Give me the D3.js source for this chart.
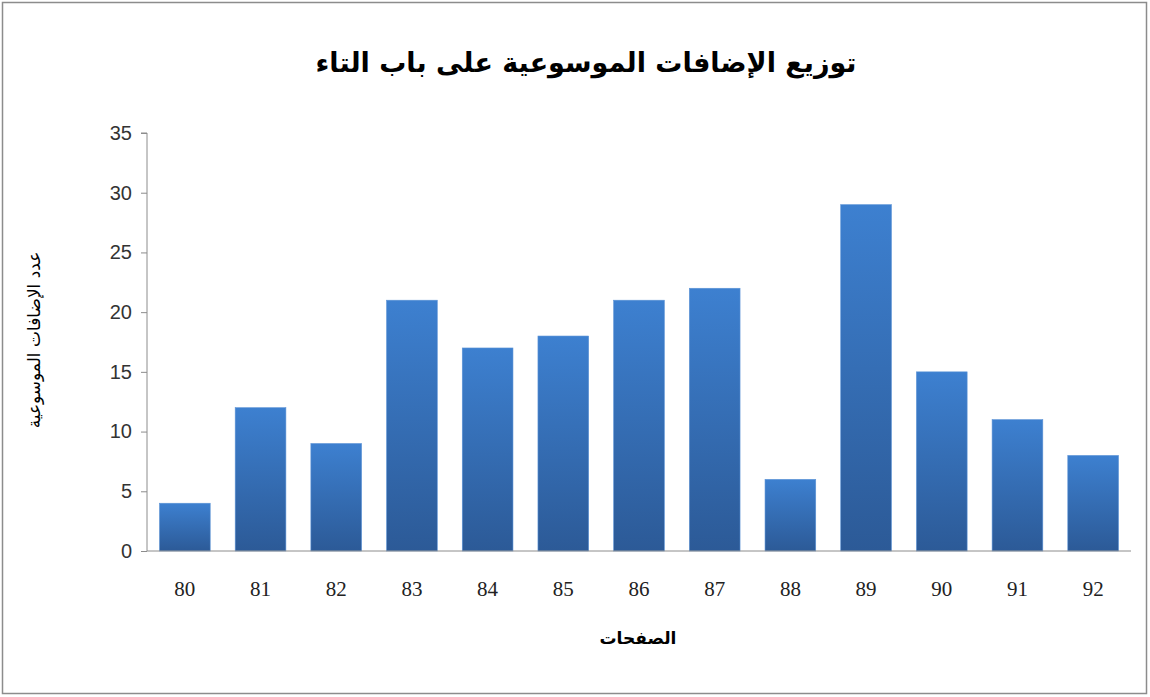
<!DOCTYPE html>
<html><head><meta charset="utf-8">
<script src="https://cdn.jsdelivr.net/npm/d3@7"></script>
<style>body{margin:0;background:#fff}</style>
</head><body>
<script>
const categories = ["80","81","82","83","84","85","86","87","88","89","90","91","92"];
const values = [4,12,9,21,17,18,21,22,6,29,15,11,8];
const yTicks = [0,5,10,15,20,25,30,35];
const title = "توزيع الإضافات الموسوعية على باب التاء";
const xTitle = "الصفحات";
const yTitle = "عدد الإضافات الموسوعية";

const W=1150,H=697;
const svg=d3.select("body").append("svg").attr("width",W).attr("height",H);
svg.append("rect").attr("x",2.5).attr("y",2.5).attr("width",1144).attr("height",691)
  .attr("fill","#fff").attr("stroke","#8c8c8c").attr("stroke-width",1.5);

const defs=svg.append("defs");
const g=defs.append("linearGradient").attr("id","bg").attr("x1",0).attr("y1",0).attr("x2",0).attr("y2",1);
g.append("stop").attr("offset","0%").attr("stop-color","#3d80d0");
g.append("stop").attr("offset","100%").attr("stop-color","#2c5a97");

const pL=147,pR=1131,pT=133,pB=551;
const x=d3.scaleBand().domain(categories).range([pL,pR]).paddingInner(0.33).paddingOuter(0.165);
const y=d3.scaleLinear().domain([0,35]).range([pB,pT]);

svg.selectAll("rect.bar").data(values).enter().append("rect").attr("class","bar")
  .attr("x",(d,i)=>x(categories[i])).attr("width",x.bandwidth())
  .attr("y",d=>y(d)).attr("height",d=>pB-y(d))
  .attr("fill","url(#bg)").attr("stroke","#5d93d6").attr("stroke-width",0.6);

const ya=svg.append("g").attr("transform",`translate(${pL},0)`)
  .call(d3.axisLeft(y).tickValues(yTicks).tickSize(6).tickPadding(9).tickFormat(d3.format("d")));
ya.select(".domain").attr("stroke","#8c8c8c").attr("d",`M-6,${pT}H0V${pB}`);
ya.selectAll(".tick line").attr("stroke","#8c8c8c");
ya.selectAll("text").attr("font-family","Liberation Sans, Arial, sans-serif").attr("font-size",20).attr("fill","#333");

const xa=svg.append("g").attr("transform",`translate(0,${pB})`)
  .call(d3.axisBottom(x).tickSize(0).tickPadding(45));
xa.select(".domain").attr("stroke","#8c8c8c").attr("d",`M${pL},0H${pR}`);
xa.selectAll("text").attr("font-family","Liberation Serif, Times New Roman, serif").attr("font-size",21).attr("fill","#222").attr("dy","0");

svg.append("text").attr("x",586).attr("y",72).attr("text-anchor","middle")
  .attr("font-family","DejaVu Sans, sans-serif").attr("font-weight","bold").attr("font-size",27)
  .attr("direction","rtl").text(title);
svg.append("text").attr("x",638).attr("y",644).attr("text-anchor","middle")
  .attr("font-family","DejaVu Sans, sans-serif").attr("font-weight","bold").attr("font-size",17)
  .attr("direction","rtl").text(xTitle);
svg.append("text").attr("transform","translate(40,340) rotate(-90)").attr("text-anchor","middle")
  .attr("font-family","DejaVu Sans, sans-serif").attr("font-size",17)
  .attr("direction","rtl").text(yTitle);
</script>
</body></html>
